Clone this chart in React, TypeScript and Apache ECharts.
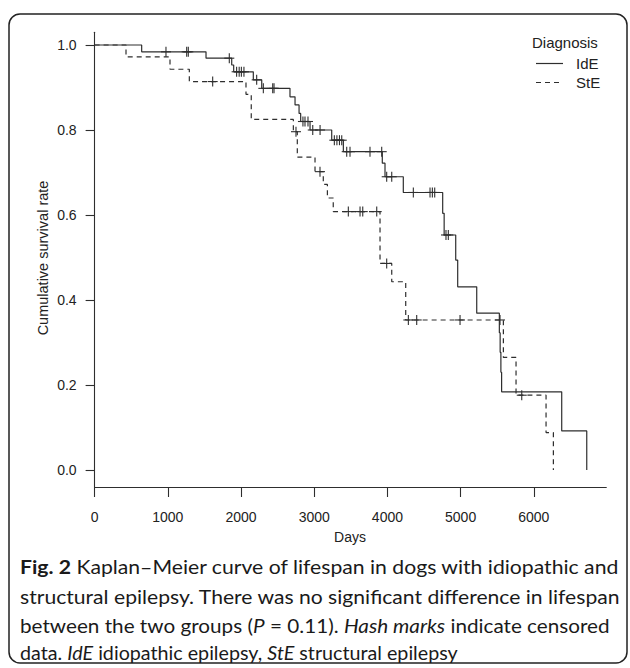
import React, { useEffect, useRef } from "react";
import * as echarts from "echarts";

// ---------- data ----------
const xTicks = [0, 1000, 2000, 3000, 4000, 5000, 6000];
const yTicks = [0, 0.2, 0.4, 0.6, 0.8, 1.0];

// Kaplan–Meier step points (time in days, survival) – IdE
const ideTimes = [0, 643, 1522, 1873, 1900, 2168, 2283, 2669, 2738, 2793, 2815, 2943, 3239, 3398, 3930, 3967, 4217, 4755, 4775, 4933, 4960, 5220, 5529, 5540, 5550, 5560, 6381, 6723];
const ideSurv = [1.0, 0.984, 0.969, 0.953, 0.937, 0.918, 0.898, 0.878, 0.859, 0.839, 0.82, 0.8, 0.776, 0.749, 0.722, 0.69, 0.653, 0.604, 0.553, 0.494, 0.431, 0.369, 0.323, 0.277, 0.23, 0.184, 0.092, 0.0];

// StE
const steTimes = [0, 429, 1030, 1294, 2068, 2140, 2715, 2769, 3011, 3124, 3180, 3260, 3899, 4059, 4250, 5584, 5757, 6167, 6267];
const steSurv = [1.0, 0.972, 0.943, 0.914, 0.884, 0.825, 0.796, 0.736, 0.702, 0.672, 0.64, 0.608, 0.486, 0.443, 0.353, 0.265, 0.176, 0.088, 0.0];

// censored observations (hash marks)
const ideCensorTimes = [975, 1258, 1280, 1840, 1940, 1975, 2005, 2040, 2214, 2305, 2433, 2451, 2846, 2874, 2915, 2980, 3080, 3275, 3310, 3345, 3376, 3444, 3489, 3762, 3922, 3990, 4059, 4354, 4582, 4614, 4646, 4800, 4832];
const ideCensorSurv = [0.984, 0.984, 0.984, 0.969, 0.937, 0.937, 0.937, 0.937, 0.918, 0.898, 0.898, 0.898, 0.82, 0.82, 0.82, 0.8, 0.8, 0.776, 0.776, 0.776, 0.776, 0.749, 0.749, 0.749, 0.749, 0.69, 0.69, 0.653, 0.653, 0.653, 0.653, 0.553, 0.553];

const steCensorTimes = [1613, 2751, 3079, 3466, 3626, 3663, 3854, 3990, 4286, 4400, 4992, 5538, 5835];
const steCensorSurv = [0.914, 0.796, 0.702, 0.608, 0.608, 0.608, 0.608, 0.486, 0.353, 0.353, 0.353, 0.353, 0.176];

const legendTitle = "Diagnosis";
const legendLabels = ["IdE", "StE"];
const xTitle = "Days";
const yTitle = "Cumulative survival rate";

const captionLines = [
  "{b|Fig. 2} Kaplan–Meier curve of lifespan in dogs with idiopathic and",
  "structural epilepsy. There was no significant difference in lifespan",
  "between the two groups ({i|P} = 0.11). {i|Hash marks} indicate censored",
  "data. {i|IdE} idiopathic epilepsy, {i|StE} structural epilepsy",
];

// ---------- helpers ----------
const AXIS_FONT = "'Liberation Sans', Arial, Helvetica, sans-serif";
const CAP_FONT = "Lato, 'Noto Sans', sans-serif";
const CAP_SIZE = 19;
const INK = "#2e2e2e";

function measureRich(str: string): number {
  const canvas = document.createElement("canvas");
  const ctx = canvas.getContext("2d");
  if (!ctx) return 1;
  let total = 0;
  const re = /\{(b|i)\|([^}]*)\}|([^{]+)/g;
  let m: RegExpExecArray | null;
  while ((m = re.exec(str)) !== null) {
    if (m[1] === "b") {
      ctx.font = `bold ${CAP_SIZE}px ${CAP_FONT}`;
      total += ctx.measureText(m[2]).width;
    } else if (m[1] === "i") {
      ctx.font = `italic ${CAP_SIZE}px ${CAP_FONT}`;
      total += ctx.measureText(m[2]).width;
    } else {
      ctx.font = `${CAP_SIZE}px ${CAP_FONT}`;
      total += ctx.measureText(m[3]).width;
    }
  }
  return total;
}

function markSeries(times: number[], surv: number[]) {
  return {
    type: "custom" as const,
    silent: true,
    z: 4,
    data: times.map((t, i) => [t, surv[i]]),
    renderItem: (_p: any, api: any) => {
      const c = api.coord([api.value(0), api.value(1)]);
      const st = { stroke: INK, lineWidth: 1.1 };
      return {
        type: "group",
        children: [
          { type: "line", shape: { x1: c[0], y1: c[1] - 5, x2: c[0], y2: c[1] + 5 }, style: st },
          { type: "line", shape: { x1: c[0] - 5, y1: c[1], x2: c[0] + 5, y2: c[1] }, style: st },
        ],
      };
    },
  };
}

export default function App() {
  const ref = useRef<HTMLDivElement>(null);

  useEffect(() => {
    if (!ref.current) return;
    const chart = echarts.init(ref.current, null, { renderer: "svg" });

    const targetW = [600, 601, 590, 438];
    const capY = [566, 596, 625, 653];

    const captionEls = captionLines.map((line, i) => ({
      type: "text",
      x: 20,
      y: capY[i],
      scaleX: targetW[i] / measureRich(line),
      scaleY: 1,
      style: {
        text: line,
        fontFamily: CAP_FONT,
        fontSize: CAP_SIZE,
        fill: "#1a1a1a",
        align: "left",
        verticalAlign: "middle",
        rich: {
          b: { fontWeight: "bold", fontFamily: CAP_FONT, fontSize: CAP_SIZE, fill: "#1a1a1a" },
          i: { fontStyle: "italic", fontFamily: CAP_FONT, fontSize: CAP_SIZE, fill: "#1a1a1a" },
        },
      },
    }));

    const option: any = {
      animation: false,
      backgroundColor: "#ffffff",
      grid: { left: 94.6, right: 23.7, top: 32.25, bottom: 181 },
      xAxis: {
        type: "value",
        min: 0,
        max: 6990,
        axisLine: { show: true, onZero: false, lineStyle: { color: INK, width: 1.1 } },
        axisTick: { show: true, length: 10, customValues: xTicks, lineStyle: { color: INK, width: 1.1 } },
        axisLabel: {
          show: true,
          customValues: xTicks,
          margin: 23,
          fontSize: 14,
          fontFamily: AXIS_FONT,
          color: "#222",
          formatter: (v: number) => String(v),
        },
        splitLine: { show: false },
      },
      yAxis: {
        type: "value",
        min: -0.04,
        max: 1.03,
        axisLine: { show: true, onZero: false, lineStyle: { color: INK, width: 1.1 } },
        axisTick: { show: true, length: 9, customValues: yTicks, lineStyle: { color: INK, width: 1.1 } },
        axisLabel: {
          show: true,
          customValues: yTicks,
          margin: 18,
          fontSize: 14,
          fontFamily: AXIS_FONT,
          color: "#222",
          formatter: (v: number) => v.toFixed(1),
        },
        splitLine: { show: false },
      },
      series: [
        {
          type: "line",
          name: legendLabels[0],
          step: "end",
          showSymbol: false,
          data: ideTimes.map((t, i) => [t, ideSurv[i]]),
          lineStyle: { color: INK, width: 1.2, type: "solid" },
          z: 3,
        },
        {
          type: "line",
          name: legendLabels[1],
          step: "end",
          showSymbol: false,
          data: steTimes.map((t, i) => [t, steSurv[i]]),
          lineStyle: { color: INK, width: 1.2, type: [5, 4] },
          z: 3,
        },
        markSeries(ideCensorTimes, ideCensorSurv),
        markSeries(steCensorTimes, steCensorSurv),
      ],
      graphic: [
        {
          type: "rect",
          shape: { x: 9, y: 14, width: 618, height: 649, r: 11 },
          style: { fill: "none", stroke: "#222", lineWidth: 1.5 },
          silent: true,
        },
        {
          type: "text",
          x: 350,
          y: 537,
          style: { text: xTitle, fontFamily: AXIS_FONT, fontSize: 14, fill: "#222", align: "center", verticalAlign: "middle" },
        },
        {
          type: "text",
          x: 43,
          y: 258,
          rotation: Math.PI / 2,
          style: { text: yTitle, fontFamily: AXIS_FONT, fontSize: 14.5, fill: "#222", align: "center", verticalAlign: "middle" },
        },
        {
          type: "text",
          x: 532,
          y: 42,
          style: { text: legendTitle, fontFamily: AXIS_FONT, fontSize: 15, fill: "#222", align: "left", verticalAlign: "middle" },
        },
        {
          type: "line",
          shape: { x1: 536, y1: 63.5, x2: 563, y2: 63.5 },
          style: { stroke: INK, lineWidth: 1.2 },
        },
        {
          type: "line",
          shape: { x1: 536, y1: 82.5, x2: 563, y2: 82.5 },
          style: { stroke: INK, lineWidth: 1.2, lineDash: [5, 4] },
        },
        {
          type: "text",
          x: 576,
          y: 63.5,
          style: { text: legendLabels[0], fontFamily: AXIS_FONT, fontSize: 15, fill: "#222", align: "left", verticalAlign: "middle" },
        },
        {
          type: "text",
          x: 576,
          y: 82,
          style: { text: legendLabels[1], fontFamily: AXIS_FONT, fontSize: 15, fill: "#222", align: "left", verticalAlign: "middle" },
        },
        ...captionEls,
      ],
    };

    chart.setOption(option);
    return () => chart.dispose();
  }, []);

  return (
    <div
      ref={ref}
      style={{ position: "absolute", left: 0, top: 0, width: 630, height: 668, background: "#fff" }}
    />
  );
}
